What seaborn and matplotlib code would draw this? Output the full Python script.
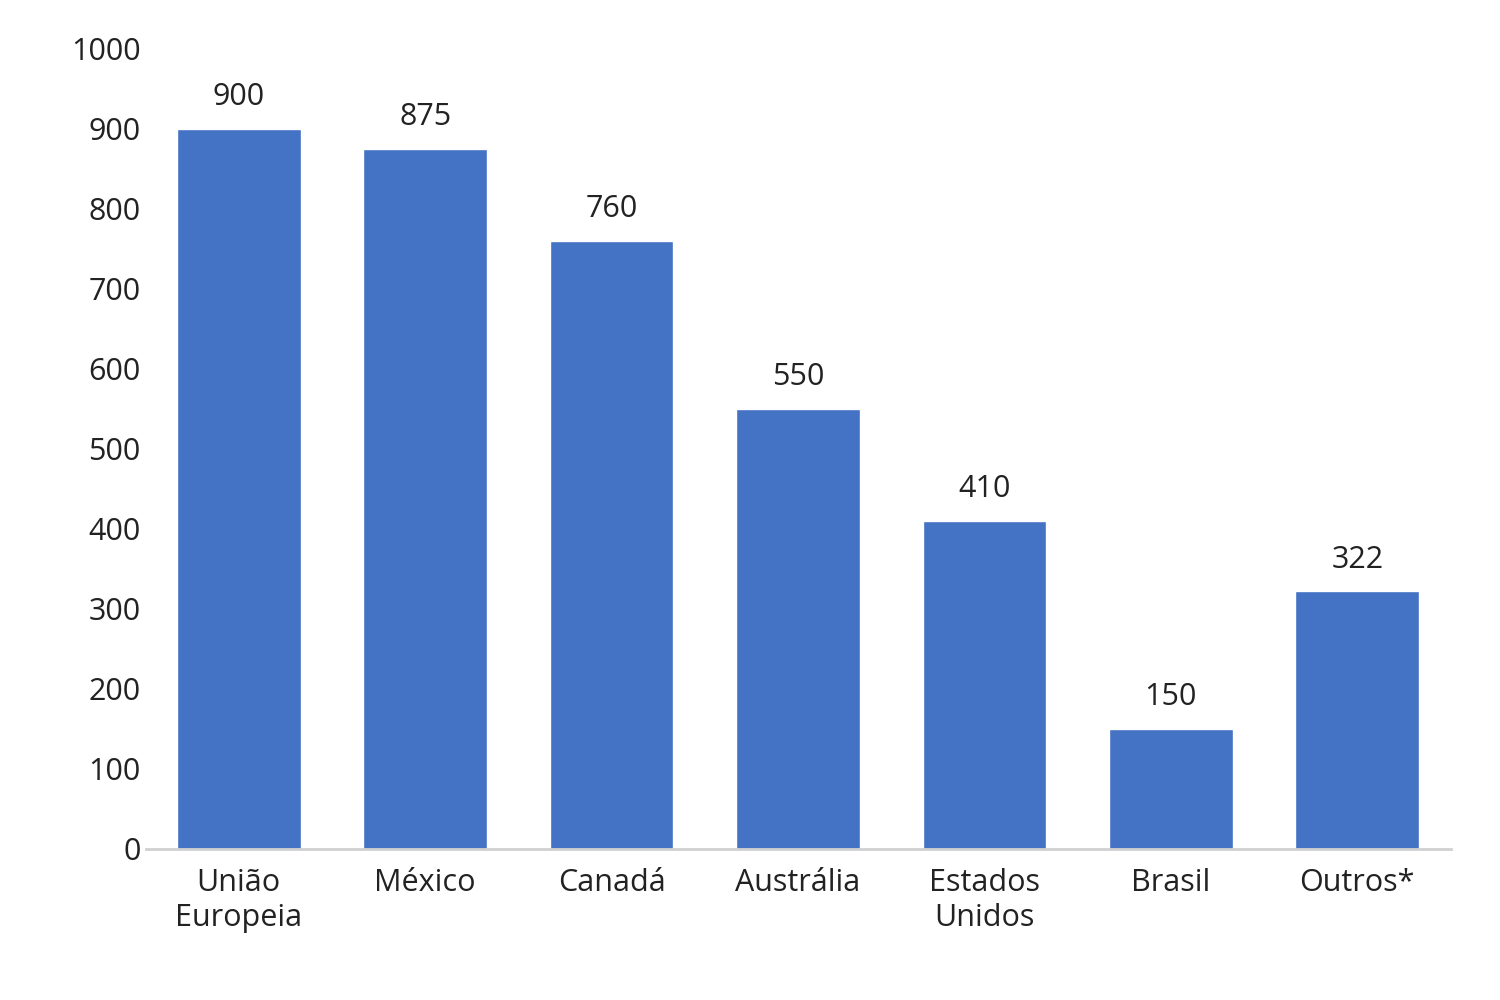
import matplotlib.pyplot as plt
import seaborn as sns
import pandas as pd

paises = ['União\nEuropeia', 'México', 'Canadá', 'Austrália', 'Estados\nUnidos', 'Brasil', 'Outros*']
valores = [900, 875, 760, 550, 410, 150, 322]

sns.set_style('white')
plt.rcParams['font.family'] = ['Open Sans', 'DejaVu Sans']

df = pd.DataFrame({'pais': paises, 'valor': valores})
fig = plt.figure(figsize=(15, 10), dpi=100)
ax = fig.add_axes([0.097, 0.151, 0.870, 0.800])
sns.barplot(data=df, x='pais', y='valor', color='#4472C4', saturation=1, width=0.664, ax=ax)
for c in ax.containers:
    ax.bar_label(c, padding=12, fontsize=22, color='#222222')
ax.set_ylim(0, 1000)
ax.set_yticks(range(0, 1001, 100))
ax.set_xlim(-0.5, len(paises) - 0.5)
ax.set_xlabel('')
ax.set_ylabel('')
ax.tick_params(axis='both', labelsize=22, colors='#222222', length=0)
ax.tick_params(axis='x', pad=14)
for s in ['top', 'right', 'left']:
    ax.spines[s].set_visible(False)
ax.spines['bottom'].set_color('#d0d0d0')
ax.spines['bottom'].set_linewidth(2)
fig.savefig('out.png')
